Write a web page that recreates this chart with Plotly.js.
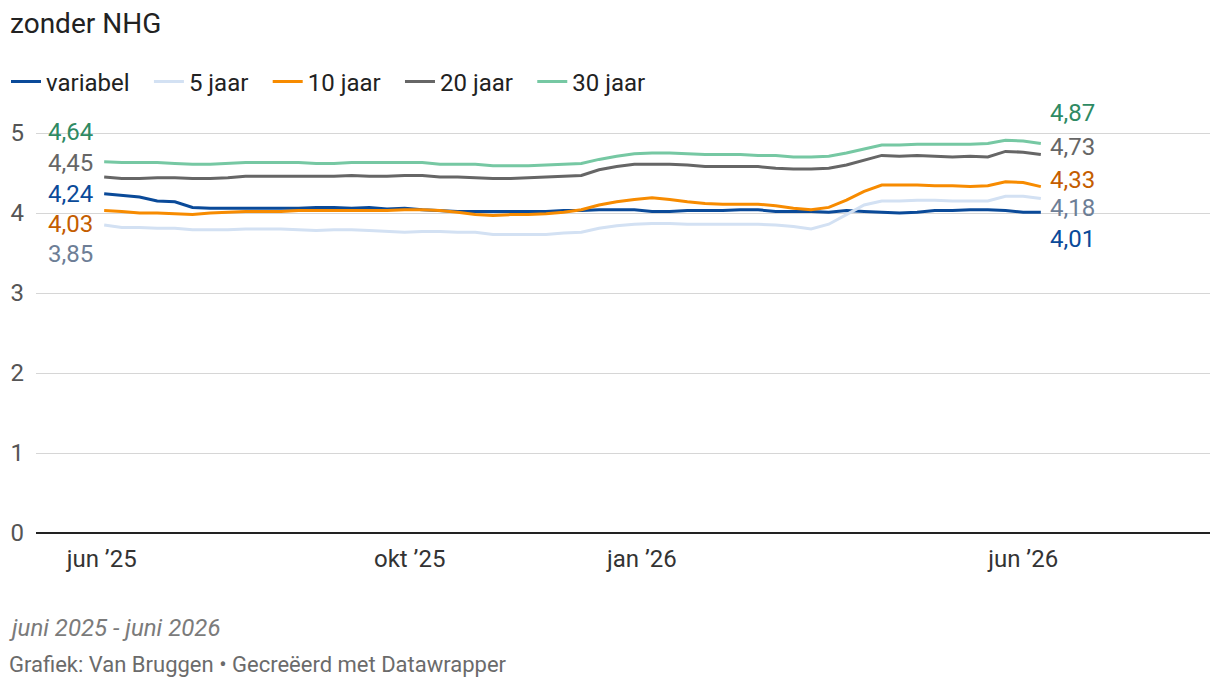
<!DOCTYPE html>
<html>
<head>
<meta charset="utf-8">
<script src="https://cdn.plot.ly/plotly-3.0.1.min.js"></script>
<style>
html,body{margin:0;padding:0;background:#fff;}
#chart{width:1220px;height:688px;}
</style>
</head>
<body>
<div id="chart"></div>
<script>
const dates = [
 "2025-06-02","2025-06-09","2025-06-16","2025-06-23","2025-06-30",
 "2025-07-07","2025-07-14","2025-07-21","2025-07-28",
 "2025-08-04","2025-08-11","2025-08-18","2025-08-25",
 "2025-09-01","2025-09-08","2025-09-15","2025-09-22","2025-09-29",
 "2025-10-06","2025-10-13","2025-10-20","2025-10-27",
 "2025-11-03","2025-11-10","2025-11-17","2025-11-24",
 "2025-12-01","2025-12-08","2025-12-15","2025-12-22","2025-12-29",
 "2026-01-05","2026-01-12","2026-01-19","2026-01-26",
 "2026-02-02","2026-02-09","2026-02-16","2026-02-23",
 "2026-03-02","2026-03-09","2026-03-16","2026-03-23","2026-03-30",
 "2026-04-06","2026-04-13","2026-04-20","2026-04-27",
 "2026-05-04","2026-05-11","2026-05-18","2026-05-25",
 "2026-06-01","2026-06-08"
];

const variabel = [
 4.24,4.22,4.20,4.15,4.14,4.07,4.06,4.06,4.06,4.06,
 4.06,4.06,4.07,4.07,4.06,4.07,4.05,4.06,4.04,4.03,
 4.02,4.02,4.02,4.02,4.02,4.02,4.03,4.03,4.04,4.04,
 4.04,4.02,4.02,4.03,4.03,4.03,4.04,4.04,4.02,4.02,
 4.02,4.01,4.03,4.02,4.01,4.00,4.01,4.03,4.03,4.04,
 4.04,4.03,4.01,4.01
];
const jaar5 = [
 3.85,3.82,3.82,3.81,3.81,3.79,3.79,3.79,3.80,3.80,
 3.80,3.79,3.78,3.79,3.79,3.78,3.77,3.76,3.77,3.77,
 3.76,3.76,3.73,3.73,3.73,3.73,3.75,3.76,3.81,3.84,
 3.86,3.87,3.87,3.86,3.86,3.86,3.86,3.86,3.85,3.83,
 3.80,3.86,3.98,4.10,4.15,4.15,4.16,4.16,4.15,4.15,
 4.15,4.21,4.21,4.18
];
const jaar10 = [
 4.03,4.02,4.00,4.00,3.99,3.98,4.00,4.01,4.02,4.02,
 4.02,4.03,4.03,4.03,4.03,4.03,4.03,4.04,4.04,4.03,
 4.01,3.98,3.97,3.98,3.98,3.99,4.01,4.04,4.10,4.14,
 4.17,4.19,4.17,4.14,4.12,4.11,4.11,4.11,4.09,4.06,
 4.04,4.07,4.16,4.27,4.35,4.35,4.35,4.34,4.34,4.33,
 4.34,4.39,4.38,4.33
];
const jaar20 = [
 4.45,4.43,4.43,4.44,4.44,4.43,4.43,4.44,4.46,4.46,
 4.46,4.46,4.46,4.46,4.47,4.46,4.46,4.47,4.47,4.45,
 4.45,4.44,4.43,4.43,4.44,4.45,4.46,4.47,4.54,4.58,
 4.61,4.61,4.61,4.60,4.58,4.58,4.58,4.58,4.56,4.55,
 4.55,4.56,4.60,4.66,4.72,4.71,4.72,4.71,4.70,4.71,
 4.70,4.77,4.76,4.73
];
const jaar30 = [
 4.64,4.63,4.63,4.63,4.62,4.61,4.61,4.62,4.63,4.63,
 4.63,4.63,4.62,4.62,4.63,4.63,4.63,4.63,4.63,4.61,
 4.61,4.61,4.59,4.59,4.59,4.60,4.61,4.62,4.67,4.71,
 4.74,4.75,4.75,4.74,4.73,4.73,4.73,4.72,4.72,4.70,
 4.70,4.71,4.75,4.80,4.85,4.85,4.86,4.86,4.86,4.86,
 4.87,4.91,4.90,4.87
];

const seriesNames = ["variabel","5 jaar","10 jaar","20 jaar","30 jaar"];
const tickVals = ["2025-06-01","2025-10-01","2026-01-01","2026-06-01"];
const tickText = ["jun \u201925","okt \u201925","jan \u201926","jun \u201926"];
const yTicks = [0,1,2,3,4,5];

const seriesData = [variabel, jaar5, jaar10, jaar20, jaar30];
const lineColors = ["#0a4a99","#d3e1f3","#f78b00","#666666","#76c8a3"];
const labelColors = ["#0a4a99","#6d7e96","#c45d00","#666666","#2e8a63"];
// label offsets (px) for start and end labels
const startShift = [0, -29, -13, 14, 30];
const endShift = [-27, -9, 7, 8, 30];

const FONT = "Roboto, 'Noto Sans', sans-serif";

const traces = seriesData.map((ys, i) => ({
  type: "scatter",
  mode: "lines",
  x: dates,
  y: ys,
  name: seriesNames[i] + "\u00a0\u00a0\u200a",
  line: {color: lineColors[i], width: 3},
  hoverinfo: "skip"
}));

const fmt = v => v.toFixed(2).replace(".", ",");

const annotations = [];
seriesData.forEach((ys, i) => {
  annotations.push({
    x: dates[0], y: ys[0], xref: "x", yref: "y",
    text: fmt(ys[0]), showarrow: false,
    xanchor: "right", yanchor: "middle", xshift: -9, yshift: startShift[i],
    font: {family: FONT, size: 24, color: labelColors[i]}
  });
  const n = ys.length - 1;
  annotations.push({
    x: dates[n], y: ys[n], xref: "x", yref: "y",
    text: fmt(ys[n]), showarrow: false,
    xanchor: "left", yanchor: "middle", xshift: 7, yshift: endShift[i],
    font: {family: FONT, size: 24, color: labelColors[i]}
  });
});

annotations.push({
  xref: "paper", yref: "paper", x: 0, y: 0,
  text: "<i>juni 2025 - juni 2026</i>", showarrow: false,
  xanchor: "left", yanchor: "middle", xshift: -29, yshift: -95,
  font: {family: FONT, size: 24, color: "#7b7b7b"}
});
annotations.push({
  xref: "paper", yref: "paper", x: 0, y: 0,
  text: "Grafiek: Van Bruggen \u2022 Gecre\u00eberd met Datawrapper", showarrow: false,
  xanchor: "left", yanchor: "middle", xshift: -29, yshift: -131,
  font: {family: FONT, size: 22, color: "#6b6b6b"}
});

const layout = {
  width: 1220, height: 688,
  paper_bgcolor: "#ffffff", plot_bgcolor: "#ffffff",
  margin: {l: 36, r: 10, t: 113, b: 155},
  font: {family: FONT, size: 24, color: "#555555"},
  title: {
    text: "zonder NHG",
    xref: "container", yref: "container",
    x: 10/1220, xanchor: "left", y: 1 - 13/688, yanchor: "top",
    font: {family: FONT, size: 28, color: "#222222"}
  },
  showlegend: true,
  legend: {
    orientation: "h",
    xref: "container", yref: "container",
    x: 6/1220, xanchor: "left", y: 1 - 82/688, yanchor: "middle",
    font: {family: FONT, size: 24, color: "#222222"},
    itemclick: false, itemdoubleclick: false,
    tracegroupgap: 0
  },
  xaxis: {
    type: "date",
    range: ["2025-05-06", "2026-08-14"],
    tickmode: "array", tickvals: tickVals, ticktext: tickText,
    showgrid: false, zeroline: false, showline: false,
    ticks: "", ticklabelstandoff: 9,
    tickfont: {family: FONT, size: 24, color: "#333333"},
    fixedrange: true
  },
  yaxis: {
    range: [0, 5.25],
    tickmode: "array", tickvals: yTicks, ticktext: yTicks.map(String),
    showgrid: true, gridcolor: "#d6d6d6", gridwidth: 1,
    zeroline: true, zerolinecolor: "#222222", zerolinewidth: 2,
    showline: false, ticks: "", ticklabelstandoff: 11,
    tickfont: {family: FONT, size: 24, color: "#555555"},
    fixedrange: true
  },
  annotations: annotations
};

Plotly.newPlot("chart", traces, layout, {displayModeBar: false, staticPlot: true});
</script>
</body>
</html>
